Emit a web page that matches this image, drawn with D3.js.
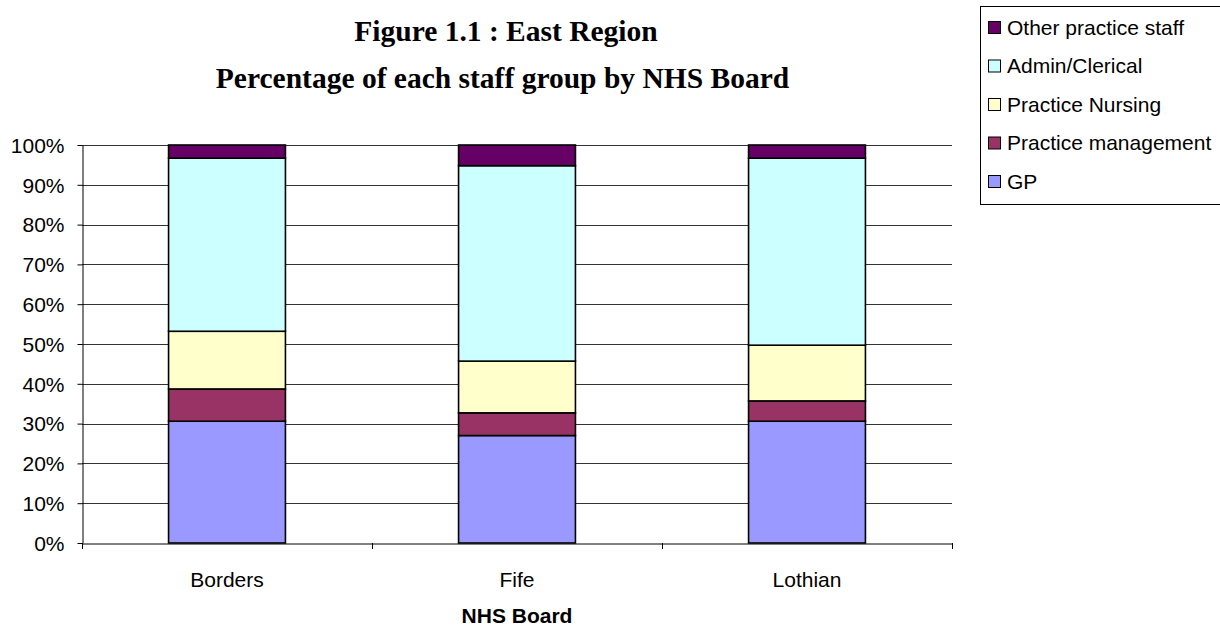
<!DOCTYPE html>
<html><head><meta charset="utf-8">
<script src="https://cdn.jsdelivr.net/npm/d3@7"></script>
<style>body{margin:0;background:#fff;}svg{display:block;}</style>
</head><body>
<svg id="chart" width="1220" height="626"></svg>
<script>
const categories = ["Borders", "Fife", "Lothian"];
const seriesNames = ["GP", "Practice management", "Practice Nursing", "Admin/Clerical", "Other practice staff"];
const gp = [30.6, 27.0, 30.6];
const practiceManagement = [8.1, 5.7, 5.1];
const practiceNursing = [14.5, 13.0, 14.0];
const adminClerical = [43.5, 49.1, 47.0];
const otherStaff = [3.3, 5.2, 3.3];
const yTicks = [0, 10, 20, 30, 40, 50, 60, 70, 80, 90, 100];
const colors = ["#9999FF", "#993366", "#FFFFCC", "#CCFFFF", "#660066"];

(function () {
const seriesValues = [gp, practiceManagement, practiceNursing, adminClerical, otherStaff];
const rows = categories.map((c, i) => {
  const r = {cat: c};
  seriesNames.forEach((s, j) => r[s] = seriesValues[j][i]);
  return r;
});
const stack = d3.stack().keys(seriesNames)(rows);

const svg = d3.select("#chart");
const pLeft = 82, pRight = 952, pTop = 145, pBottom = 543;
const sans = "Arial, 'Liberation Sans', sans-serif";
const serif = "'Times New Roman', 'Liberation Serif', serif";
const x = d3.scaleBand().domain(categories).range([pLeft, pRight]);
const y = d3.scaleLinear().domain([0, 100]).range([pBottom, pTop]);

// gridlines
svg.append("g").selectAll("line").data(yTicks.filter(t => t > 0)).join("line")
  .attr("x1", pLeft).attr("x2", pRight)
  .attr("y1", d => Math.round(y(d)) + 0.5).attr("y2", d => Math.round(y(d)) + 0.5)
  .attr("stroke", "#333").attr("stroke-width", 1);

// bars
const bw = x.bandwidth() * 0.403;
svg.append("g").selectAll("g").data(stack).join("g")
  .attr("fill", (d, i) => colors[i])
  .selectAll("rect").data(d => d).join("rect")
  .attr("x", d => x(d.data.cat) + (x.bandwidth() - bw) / 2)
  .attr("width", bw)
  .attr("y", d => y(d[1]))
  .attr("height", d => y(d[0]) - y(d[1]))
  .attr("stroke", "#000").attr("stroke-width", 1.6);

// y axis
const yAxis = svg.append("g").attr("transform", `translate(${pLeft + 0.5},0)`)
  .call(d3.axisLeft(y).tickValues(yTicks).tickFormat(d => d + "%").tickSize(5).tickSizeOuter(0));
yAxis.select(".domain").attr("stroke", "#000");
yAxis.selectAll(".tick line").attr("stroke", "#000");
yAxis.selectAll("text").attr("font-family", sans)
  .attr("font-size", 21).attr("fill", "#000").attr("x", -18).attr("dy", "0.35em");

// x axis
const xAxis = svg.append("g").attr("transform", `translate(0,${pBottom + 0.5})`)
  .call(d3.axisBottom(x).tickSize(0).tickSizeOuter(0));
xAxis.select(".domain").attr("stroke", "#000");
xAxis.selectAll("text").attr("font-family", sans)
  .attr("font-size", 21).attr("fill", "#000").attr("dy", 0).attr("y", 43);
const bounds = categories.map(c => x(c)).concat([pRight]);
svg.append("g").selectAll("line").data(bounds).join("line")
  .attr("x1", d => Math.round(d) + 0.5).attr("x2", d => Math.round(d) + 0.5)
  .attr("y1", pBottom).attr("y2", pBottom + 6).attr("stroke", "#000");

// axis title
svg.append("text").attr("x", (pLeft + pRight) / 2).attr("y", 623)
  .attr("text-anchor", "middle").attr("font-family", sans)
  .attr("font-weight", "bold").attr("font-size", 21).text("NHS Board");

// titles
svg.append("text").attr("x", 506).attr("y", 41).attr("text-anchor", "middle")
  .attr("font-family", serif).attr("font-weight", "bold")
  .attr("font-size", 29.5).text("Figure 1.1 : East Region");
svg.append("text").attr("x", 502.5).attr("y", 88).attr("text-anchor", "middle")
  .attr("font-family", serif).attr("font-weight", "bold")
  .attr("font-size", 29.5).text("Percentage of each staff group by NHS Board");

// legend
const lg = svg.append("g");
lg.append("rect").attr("x", 980.5).attr("y", 6.5).attr("width", 245).attr("height", 198)
  .attr("fill", "#fff").attr("stroke", "#000").attr("stroke-width", 1);
const legendOrder = seriesNames.slice().reverse();
const legendColors = colors.slice().reverse();
legendOrder.forEach((name, i) => {
  const cy = 27 + i * 38.5;
  lg.append("rect").attr("x", 988.5).attr("y", cy - 5.5).attr("width", 12).attr("height", 12)
    .attr("fill", legendColors[i]).attr("stroke", "#000").attr("stroke-width", 1);
  lg.append("text").attr("x", 1007).attr("y", cy + 7.5)
    .attr("font-family", sans).attr("font-size", 21)
    .text(name);
});
})();
</script>
</body></html>
